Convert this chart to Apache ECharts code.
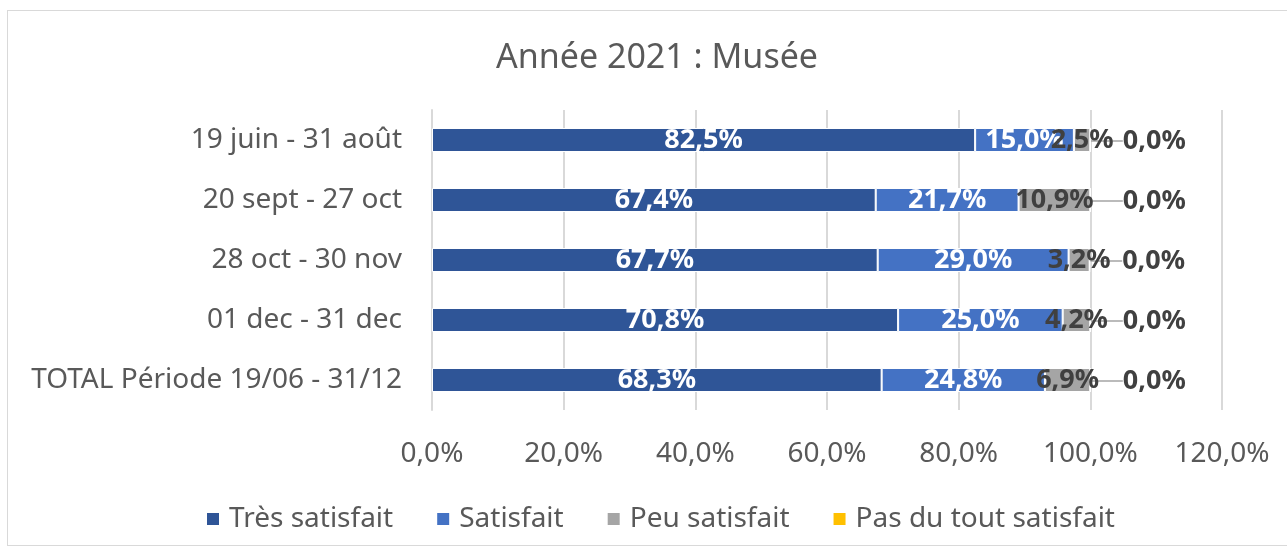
<!DOCTYPE html>
<html><head><meta charset="utf-8">
<script src="https://cdn.jsdelivr.net/npm/echarts@6/dist/echarts.min.js"></script>
<style>
html,body{margin:0;padding:0;background:#fff;}
#frame{position:absolute;left:7px;top:10px;width:1300px;height:536px;border:1px solid #D9D9D9;box-sizing:border-box;}
#c{position:absolute;left:0;top:0;width:1287px;height:548px;}
</style></head>
<body><div id="frame"></div><div id="c"></div>
<script>
const categories = ["19 juin - 31 août", "20 sept - 27 oct", "28 oct - 30 nov", "01 dec - 31 dec", "TOTAL Période 19/06 - 31/12"];
const tresSatisfait = [82.5, 67.4, 67.7, 70.8, 68.3];
const satisfait = [15.0, 21.7, 29.0, 25.0, 24.8];
const peuSatisfait = [2.5, 10.9, 3.2, 4.2, 6.9];
const pasDuTout = [0.0, 0.0, 0.0, 0.0, 0.0];
const seriesNames = ["Très satisfait", "Satisfait", "Peu satisfait", "Pas du tout satisfait"];
const colors = ["#2F5597", "#4472C4", "#A5A5A5", "#FFC000"];

const FONT = "Noto Sans";
const fmt = v => v.toFixed(1).replace('.', ',') + '%';

const chart = echarts.init(document.getElementById('c'), null, {renderer: 'canvas'});
function mk(name, data, color, labelColor, extra) {
  return Object.assign({
    name: name, type: 'bar', stack: 'total', data: data, barWidth: 24,
    itemStyle: {color: color, borderColor: '#fff', borderWidth: 1},
    label: {show: true, position: 'inside', color: labelColor, fontFamily: FONT, fontWeight: 'bold', fontSize: 27,
      formatter: p => fmt(p.value)},
    emphasis: {disabled: true}
  }, extra || {});
}
chart.setOption({
  animation: false,
  title: {text: 'Année 2021 : Musée', left: 491, top: 36,
    textStyle: {fontFamily: FONT, fontSize: 34, fontWeight: 'normal', color: '#595959'}},
  grid: {left: 432, right: 65, top: 110, bottom: 138},
  legend: {left: 200, top: 500, itemWidth: 14, itemHeight: 14, itemGap: 42, icon: 'rect',
    data: seriesNames,
    textStyle: {fontFamily: FONT, fontSize: 28, color: '#595959', padding: [0, 0, 0, 4]}},
  xAxis: {type: 'value', min: 0, max: 120, interval: 20,
    axisLine: {show: false}, axisTick: {show: false},
    splitLine: {show: true, lineStyle: {color: '#D9D9D9', width: 2}},
    axisLabel: {formatter: v => fmt(v), fontFamily: FONT, fontSize: 28, color: '#595959', margin: 30}},
  yAxis: {type: 'category', data: categories, inverse: true,
    axisLine: {show: true, lineStyle: {color: '#D9D9D9', width: 2}}, axisTick: {show: false},
    axisLabel: {fontFamily: FONT, fontSize: 28, color: '#595959', margin: 30}},
  series: [
    mk(seriesNames[0], tresSatisfait, colors[0], '#fff'),
    mk(seriesNames[1], satisfait, colors[1], '#fff'),
    mk(seriesNames[2], peuSatisfait, colors[2], '#404040'),
    mk(seriesNames[3], pasDuTout, colors[3], '#404040', {
      label: {show: true, position: 'right', distance: 4, color: '#404040', fontFamily: FONT, fontWeight: 'bold', fontSize: 27,
        formatter: p => fmt(p.value)},
      labelLayout: {dx: 28, dy: 1},
      labelLine: {show: true, lineStyle: {color: '#A5A5A5', width: 1.5}}
    })
  ]
});
</script></body></html>
